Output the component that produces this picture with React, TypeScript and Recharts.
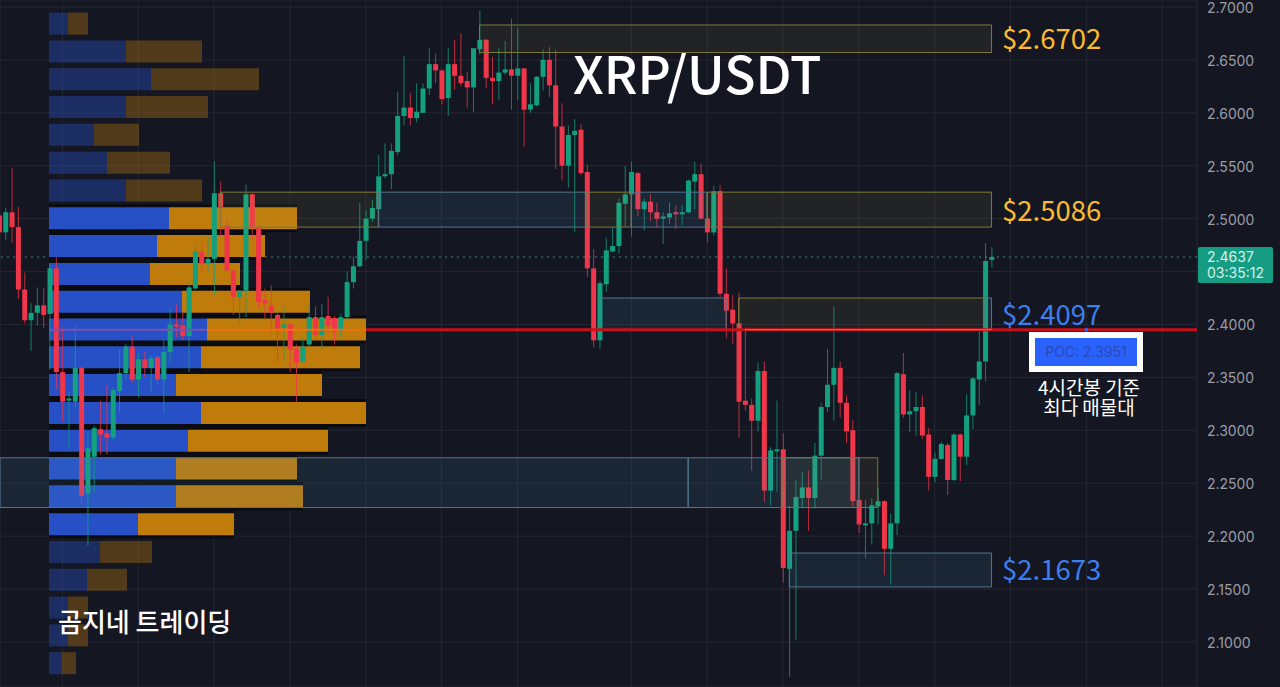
import React from 'react'
import {
  Bar,
  BarChart,
  CartesianGrid,
  Cell,
  ComposedChart,
  ReferenceArea,
  ReferenceDot,
  ReferenceLine,
  XAxis,
  YAxis,
} from 'recharts'

const WIDTH = 1280
const HEIGHT = 687

// 4h candles, oldest first
const highs = [
  2.508, 2.51, 2.548, 2.511, 2.449, 2.42, 2.435, 2.434, 2.458, 2.464,
  2.398, 2.336, 2.399, 2.36, 2.297, 2.304, 2.328, 2.343, 2.341, 2.376,
  2.382, 2.39, 2.373, 2.374, 2.371, 2.371, 2.385, 2.415, 2.419, 2.411,
  2.44, 2.477, 2.478, 2.483, 2.554, 2.535, 2.499, 2.452, 2.432, 2.532,
  2.524, 2.491, 2.434, 2.437, 2.411, 2.417, 2.4, 2.381, 2.387, 2.418,
  2.417, 2.419, 2.426, 2.408, 2.41, 2.45, 2.464, 2.515, 2.508, 2.518,
  2.56, 2.571, 2.571, 2.62, 2.654, 2.619, 2.628, 2.628, 2.661, 2.656,
  2.641, 2.661, 2.669, 2.675, 2.639, 2.661, 2.697, 2.67, 2.653, 2.661,
  2.668, 2.689, 2.68, 2.642, 2.628, 2.635, 2.66, 2.662, 2.66, 2.609,
  2.588, 2.594, 2.589, 2.551, 2.471, 2.441, 2.482, 2.492, 2.519, 2.55,
  2.554, 2.544, 2.519, 2.523, 2.515, 2.506, 2.515, 2.513, 2.513, 2.537,
  2.554, 2.552, 2.525, 2.531, 2.532, 2.453, 2.428, 2.43, 2.397, 2.33,
  2.364, 2.365, 2.284, 2.328, 2.297, 2.229, 2.253, 2.261, 2.262, 2.288,
  2.326, 2.377, 2.417, 2.365, 2.333, 2.31, 2.275, 2.234, 2.236, 2.246,
  2.234, 2.221, 2.355, 2.373, 2.338, 2.336, 2.333, 2.302, 2.279, 2.289,
  2.288, 2.297, 2.297, 2.334, 2.35, 2.395, 2.477, 2.473,
]
const lows = [
  2.484, 2.48, 2.477, 2.424, 2.401, 2.375, 2.399, 2.397, 2.357, 2.338,
  2.308, 2.283, 2.321, 2.231, 2.191, 2.241, 2.277, 2.277, 2.29, 2.316,
  2.348, 2.345, 2.331, 2.35, 2.336, 2.343, 2.317, 2.364, 2.388, 2.385,
  2.355, 2.433, 2.45, 2.449, 2.428, 2.483, 2.45, 2.409, 2.401, 2.407,
  2.48, 2.416, 2.406, 2.392, 2.364, 2.366, 2.355, 2.327, 2.364, 2.379,
  2.385, 2.376, 2.392, 2.381, 2.388, 2.404, 2.434, 2.454, 2.461, 2.497,
  2.492, 2.538, 2.528, 2.56, 2.588, 2.588, 2.591, 2.6, 2.617, 2.628,
  2.608, 2.597, 2.622, 2.625, 2.605, 2.601, 2.655, 2.623, 2.608, 2.612,
  2.636, 2.603, 2.612, 2.568, 2.6, 2.606, 2.621, 2.615, 2.547, 2.536,
  2.529, 2.487, 2.541, 2.445, 2.378, 2.377, 2.431, 2.468, 2.467, 2.492,
  2.483, 2.502, 2.489, 2.498, 2.492, 2.476, 2.495, 2.49, 2.494, 2.505,
  2.509, 2.499, 2.478, 2.484, 2.426, 2.387, 2.382, 2.293, 2.319, 2.262,
  2.299, 2.232, 2.229, 2.242, 2.156, 2.067, 2.102, 2.227, 2.205, 2.226,
  2.253, 2.317, 2.309, 2.312, 2.288, 2.228, 2.203, 2.179, 2.192, 2.211,
  2.163, 2.154, 2.201, 2.312, 2.298, 2.295, 2.292, 2.243, 2.251, 2.272,
  2.239, 2.252, 2.252, 2.267, 2.301, 2.324, 2.346, 2.454,
]
const opens = [
  2.503, 2.487, 2.506, 2.492, 2.433, 2.404, 2.411, 2.418, 2.41, 2.453,
  2.355, 2.328, 2.327, 2.359, 2.24, 2.275, 2.301, 2.297, 2.293, 2.337,
  2.354, 2.379, 2.348, 2.367, 2.359, 2.369, 2.348, 2.374, 2.4, 2.399,
  2.389, 2.434, 2.469, 2.457, 2.462, 2.524, 2.494, 2.451, 2.426, 2.432,
  2.523, 2.491, 2.423, 2.418, 2.409, 2.397, 2.4, 2.377, 2.365, 2.381,
  2.407, 2.39, 2.408, 2.406, 2.394, 2.407, 2.44, 2.455, 2.479, 2.5,
  2.509, 2.54, 2.542, 2.563, 2.597, 2.605, 2.595, 2.6, 2.623, 2.646,
  2.64, 2.614, 2.646, 2.635, 2.63, 2.624, 2.66, 2.669, 2.633, 2.63,
  2.638, 2.641, 2.635, 2.642, 2.603, 2.607, 2.634, 2.65, 2.626, 2.587,
  2.55, 2.579, 2.584, 2.544, 2.453, 2.385, 2.438, 2.469, 2.474, 2.514,
  2.523, 2.543, 2.509, 2.516, 2.506, 2.501, 2.501, 2.506, 2.505, 2.506,
  2.535, 2.542, 2.5, 2.487, 2.526, 2.429, 2.414, 2.401, 2.328, 2.324,
  2.309, 2.356, 2.243, 2.281, 2.282, 2.169, 2.205, 2.236, 2.246, 2.236,
  2.276, 2.322, 2.343, 2.359, 2.326, 2.3, 2.234, 2.211, 2.212, 2.228,
  2.233, 2.188, 2.212, 2.353, 2.315, 2.318, 2.322, 2.296, 2.256, 2.273,
  2.286, 2.253, 2.296, 2.275, 2.314, 2.348, 2.365, 2.461,
]
const closes = [
  2.487, 2.506, 2.492, 2.433, 2.404, 2.411, 2.418, 2.409, 2.453, 2.355,
  2.327, 2.33, 2.359, 2.238, 2.283, 2.302, 2.296, 2.293, 2.338, 2.354,
  2.379, 2.348, 2.367, 2.359, 2.368, 2.348, 2.374, 2.4, 2.398, 2.389,
  2.435, 2.469, 2.457, 2.462, 2.524, 2.511, 2.451, 2.426, 2.432, 2.523,
  2.492, 2.421, 2.42, 2.411, 2.395, 2.4, 2.376, 2.364, 2.379, 2.407,
  2.39, 2.407, 2.399, 2.393, 2.407, 2.44, 2.455, 2.479, 2.5, 2.51,
  2.54, 2.542, 2.564, 2.597, 2.605, 2.595, 2.601, 2.623, 2.646, 2.64,
  2.613, 2.646, 2.635, 2.628, 2.624, 2.661, 2.669, 2.633, 2.63, 2.638,
  2.641, 2.635, 2.642, 2.603, 2.608, 2.634, 2.65, 2.626, 2.587, 2.55,
  2.579, 2.583, 2.543, 2.453, 2.385, 2.439, 2.47, 2.474, 2.515, 2.523,
  2.544, 2.509, 2.516, 2.506, 2.5, 2.502, 2.505, 2.505, 2.506, 2.536,
  2.542, 2.5, 2.487, 2.526, 2.429, 2.413, 2.401, 2.327, 2.324, 2.309,
  2.356, 2.243, 2.281, 2.282, 2.17, 2.205, 2.237, 2.246, 2.236, 2.276,
  2.322, 2.343, 2.359, 2.326, 2.299, 2.233, 2.211, 2.212, 2.229, 2.233,
  2.188, 2.212, 2.354, 2.315, 2.318, 2.322, 2.295, 2.256, 2.273, 2.287,
  2.253, 2.296, 2.275, 2.314, 2.349, 2.365, 2.46, 2.4637,
]

// volume profile rows, top of the chart first (relative volume)
const profilePrices = [
  '2.684', '2.658', '2.632', '2.605', '2.579', '2.553', '2.527', '2.500', '2.474', '2.448', '2.421', '2.395',
  '2.369', '2.343', '2.316', '2.290', '2.264', '2.237', '2.211', '2.185', '2.159', '2.132', '2.106', '2.080',
]
const buyVolume = [19, 77, 102, 77, 45, 58, 77, 120, 108, 101, 133, 158, 152, 127, 152, 139, 127, 127, 89, 51, 38, 19, 19, 13]
const sellVolume = [20, 76, 108, 82, 45, 63, 76, 128, 108, 90, 128, 159, 159, 146, 165, 140, 121, 127, 96, 52, 40, 20, 20, 14]
const VALUE_AREA = [7, 18]

// 2.4500 is hidden by the last price tag, so it only gets a grid line
const priceTicks = [2.7, 2.65, 2.6, 2.55, 2.5, 2.4, 2.35, 2.3, 2.25, 2.2, 2.15, 2.1]
const HIDDEN_TICK = 2.45
const timeTicks = [10, 22, 34, 46, 58, 70, 82, 100, 112, 124, 136, 148, 160, 172, 184]

const POC = 2.3951
const LAST_PRICE = 2.4637

const X_MIN = 0.142
const X_MAX = 189.5
const Y_MIN = 2.0574
const Y_MAX = 2.7066

type Zone = { x1: number; x2: number; y1: number; y2: number; kind: 'supply' | 'demand' }

const zones: Zone[] = [
  { x1: 76, x2: 157, y1: 2.657, y2: 2.683, kind: 'supply' },
  { x1: 35, x2: 60, y1: 2.492, y2: 2.525, kind: 'supply' },
  { x1: 60, x2: 93, y1: 2.492, y2: 2.525, kind: 'demand' },
  { x1: 93, x2: 100, y1: 2.492, y2: 2.525, kind: 'supply' },
  { x1: 100, x2: 112, y1: 2.492, y2: 2.525, kind: 'demand' },
  { x1: 112, x2: 157, y1: 2.492, y2: 2.525, kind: 'supply' },
  { x1: 95, x2: 115, y1: 2.395, y2: 2.425, kind: 'demand' },
  { x1: 117, x2: 156, y1: 2.395, y2: 2.425, kind: 'supply' },
  { x1: 156, x2: 157, y1: 2.395, y2: 2.425, kind: 'demand' },
  { x1: 125, x2: 157, y1: 2.152, y2: 2.184, kind: 'demand' },
  { x1: X_MIN, x2: 109, y1: 2.227, y2: 2.274, kind: 'demand' },
  { x1: 124, x2: 139, y1: 2.227, y2: 2.274, kind: 'supply' },
  { x1: 109, x2: 136, y1: 2.227, y2: 2.274, kind: 'demand' },
]

const candles = opens.map((open, i) => ({
  i,
  open,
  close: closes[i],
  high: highs[i],
  low: lows[i],
  range: [lows[i], highs[i]],
}))

const profileRows = profilePrices.map((price, i) => ({
  price,
  buy: buyVolume[i],
  sell: sellVolume[i],
  total: buyVolume[i] + sellVolume[i],
  inValueArea: i >= VALUE_AREA[0] && i <= VALUE_AREA[1],
}))

const UP = '#12a07f'
const DOWN = '#f0364a'
const BG = '#141722'
const GRID = '#242732'
const UI_FONT = 'Inter, "Noto Sans", sans-serif'
const KR_FONT = '"Noto Sans CJK KR", "Noto Sans", sans-serif'

const layer: React.CSSProperties = { position: 'absolute', left: 0, top: 0 }
const chartSize = { width: WIDTH, height: HEIGHT }
const hiddenMargin = { top: 0, right: 83, bottom: 0, left: 0 }
const profileMargin = { top: 9.6, right: 914, bottom: 10, left: 49 }

const xAxisProps = {
  type: 'number' as const,
  dataKey: 'i',
  domain: [X_MIN, X_MAX],
  allowDataOverflow: true,
  ticks: timeTicks,
}
const yAxisProps = {
  type: 'number' as const,
  domain: [Y_MIN, Y_MAX],
  allowDataOverflow: true,
  orientation: 'right' as const,
}

const CandleShape = (props: any) => {
  const { x, y, width, height, payload } = props
  const { open, close, high, low } = payload
  const perUnit = height / (high - low)
  const up = close >= open
  const color = up ? UP : DOWN
  const bodyTop = y + (high - Math.max(open, close)) * perUnit
  const bodyHeight = Math.max(Math.abs(open - close) * perUnit, 2)
  const center = x + width / 2
  return (
    <g>
      <line x1={center} x2={center} y1={y} y2={y + height} stroke={color} strokeOpacity={0.75} />
      <rect x={x} y={bodyTop} width={width} height={bodyHeight} fill={color} />
    </g>
  )
}

function Label({ style, children }: { style: React.CSSProperties; children: React.ReactNode }) {
  return <div style={{ position: 'absolute', whiteSpace: 'nowrap', ...style }}>{children}</div>
}

function priceLabel(text: string, top: number, color: string) {
  return (
    <Label style={{ left: 1002, top, color, fontFamily: KR_FONT, fontSize: 27.5, lineHeight: '34px' }}>{text}</Label>
  )
}

export default function App() {
  return (
    <div style={{ position: 'fixed', left: 0, top: 0, width: WIDTH, height: HEIGHT, background: BG, overflow: 'hidden' }}>
      {/* grid, price axis and last price line */}
      <div style={layer}>
        <ComposedChart {...chartSize} data={candles} margin={{ top: 0, right: 0, bottom: 0, left: 0 }}>
          <CartesianGrid stroke={GRID} />
          <XAxis {...xAxisProps} hide />
          <YAxis
            {...yAxisProps}
            width={83}
            ticks={priceTicks}
            interval={0}
            tickFormatter={(v: number) => v.toFixed(4)}
            axisLine={false}
            tickLine={false}
            tickSize={0}
            tickMargin={10}
            tick={{ fill: '#9a9da6', fontSize: 14, fontFamily: UI_FONT, dy: 1 }}
          />
          <ReferenceLine y={HIDDEN_TICK} stroke={GRID} />
          <ReferenceLine y={LAST_PRICE} stroke="#2c8f7e" strokeDasharray="2 4" />
        </ComposedChart>
      </div>

      {/* dark backing that shows as thin lines between the bright profile rows */}
      <div style={layer}>
        <BarChart {...chartSize} data={profileRows} layout="vertical" margin={profileMargin} barCategoryGap={0}>
          <XAxis type="number" domain={[0, 317]} allowDataOverflow hide />
          <YAxis type="category" dataKey="price" hide />
          <Bar dataKey="total" isAnimationActive={false}>
            {profileRows.map((row) => (
              <Cell key={row.price} fill="#0b0c11" fillOpacity={row.inValueArea ? 1 : 0} />
            ))}
          </Bar>
        </BarChart>
      </div>

      {/* volume profile */}
      <div style={layer}>
        <BarChart {...chartSize} data={profileRows} layout="vertical" margin={profileMargin} barCategoryGap={3}>
          <XAxis type="number" domain={[0, 317]} allowDataOverflow hide />
          <YAxis type="category" dataKey="price" hide />
          <Bar dataKey="buy" stackId="v" isAnimationActive={false}>
            {profileRows.map((row) => (
              <Cell key={row.price} fill="#2850c6" fillOpacity={row.inValueArea ? 1 : 0.4} />
            ))}
          </Bar>
          <Bar dataKey="sell" stackId="v" isAnimationActive={false}>
            {profileRows.map((row) => (
              <Cell key={row.price} fill="#bf7c0b" fillOpacity={row.inValueArea ? 1 : 0.35} />
            ))}
          </Bar>
        </BarChart>
      </div>

      {/* candles */}
      <div style={layer}>
        <ComposedChart {...chartSize} data={candles} margin={hiddenMargin}>
          <XAxis {...xAxisProps} hide />
          <YAxis {...yAxisProps} hide />
          <Bar dataKey="range" barSize={5} shape={CandleShape} isAnimationActive={false} />
        </ComposedChart>
      </div>

      {/* zones and POC line sit on top of the candles */}
      <div style={layer}>
        <ComposedChart {...chartSize} data={candles} margin={hiddenMargin}>
          <XAxis {...xAxisProps} hide />
          <YAxis {...yAxisProps} hide />
          {zones.map((z, idx) => (
            <ReferenceArea
              key={idx}
              x1={z.x1}
              x2={z.x2}
              y1={z.y1}
              y2={z.y2}
              fill={z.kind === 'supply' ? '#beb450' : '#4a90be'}
              fillOpacity={z.kind === 'supply' ? 0.08 : 0.12}
              stroke={z.kind === 'supply' ? '#7f7a3c' : '#54758f'}
              strokeWidth={1}
            />
          ))}
          <ReferenceLine
            segment={[{ x: 7.9, y: POC }, { x: 32.9, y: POC }]}
            stroke="#7a50b8"
            strokeWidth={2}
          />
          <ReferenceLine
            segment={[{ x: 32.9, y: POC }, { x: 58.05, y: POC }]}
            stroke="#f07010"
            strokeWidth={2}
          />
          <ReferenceLine
            segment={[{ x: 58.05, y: POC }, { x: X_MAX, y: POC }]}
            stroke="#c8101a"
            strokeWidth={3}
          />
          <ReferenceLine
            segment={[{ x: 118, y: POC }, { x: 157, y: POC }]}
            stroke="#e8701a"
            strokeWidth={1}
          />
          <ReferenceDot x={172} y={POC} r={2} fill="#2962ff" stroke="none" />
        </ComposedChart>
      </div>

      <Label style={{ left: 573, top: 33, color: '#fff', fontFamily: KR_FONT, fontSize: 51.5, fontWeight: 500, lineHeight: '78px' }}>
        XRP/USDT
      </Label>
      {priceLabel('$2.6702', 20, '#fbbb2e')}
      {priceLabel('$2.5086', 192, '#fbbb2e')}
      {priceLabel('$2.4097', 296, '#3d7ff0')}
      {priceLabel('$2.1673', 551, '#3d7ff0')}

      <Label style={{ left: 58, top: 603, color: '#fff', fontFamily: KR_FONT, fontSize: 26, fontWeight: 500, lineHeight: '36px' }}>
        곰지네 트레이딩
      </Label>

      <div
        style={{
          position: 'absolute',
          left: 1029,
          top: 332,
          width: 114,
          height: 40,
          boxSizing: 'border-box',
          border: '6px solid #fff',
          background: '#2962ff',
          color: '#2a4cb4',
          fontFamily: UI_FONT,
          fontSize: 14,
          lineHeight: '28px',
          textAlign: 'center',
          whiteSpace: 'nowrap',
        }}
      >
        POC: 2.3951
      </div>
      <Label
        style={{
          left: 1019,
          width: 140,
          top: 377,
          color: '#fff',
          fontFamily: KR_FONT,
          fontSize: 19,
          lineHeight: '20px',
          textAlign: 'center',
        }}
      >
        4시간봉 기준
        <br />
        최다 매물대
      </Label>

      <div
        style={{
          position: 'absolute',
          left: 1198,
          top: 247,
          width: 75,
          height: 36,
          borderRadius: 2,
          background: '#159c82',
          color: '#d6f0ea',
          fontFamily: UI_FONT,
          fontSize: 14,
          lineHeight: '16px',
          paddingLeft: 9,
          paddingTop: 2,
          boxSizing: 'border-box',
        }}
      >
        2.4637
        <br />
        03:35:12
      </div>
    </div>
  )
}
